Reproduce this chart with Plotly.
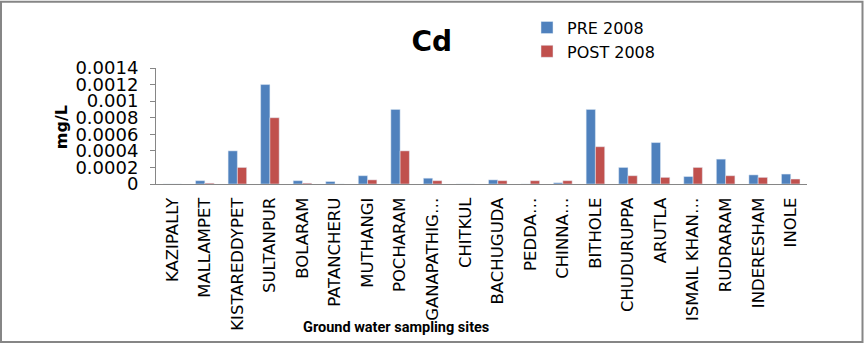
import plotly.graph_objects as go

sites = ["KAZIPALLY", "MALLAMPET", "KISTAREDDYPET", "SULTANPUR", "BOLARAM",
         "PATANCHERU", "MUTHANGI", "POCHARAM", "GANAPATHIG…", "CHITKUL",
         "BACHUGUDA", "PEDDA…", "CHINNA…", "BITHOLE", "CHUDURUPPA",
         "ARUTLA", "ISMAIL KHAN…", "RUDRARAM", "INDERESHAM", "INOLE"]
pre_2008 = [0, 0.00004, 0.0004, 0.0012, 0.00004,
            0.00003, 0.0001, 0.0009, 0.00007, 0,
            0.00005, 0, 0.000015, 0.0009, 0.0002,
            0.0005, 0.00009, 0.0003, 0.00011, 0.00012]
post_2008 = [0, 0.00001, 0.0002, 0.0008, 0.00001,
             0, 0.00005, 0.0004, 0.00004, 0,
             0.00004, 0.00004, 0.00004, 0.00045, 0.0001,
             0.00008, 0.0002, 0.0001, 0.00008, 0.00006]
y_tickvals = [0, 0.0002, 0.0004, 0.0006, 0.0008, 0.001, 0.0012, 0.0014]
y_ticktext = ["0", "0.0002", "0.0004", "0.0006", "0.0008", "0.001", "0.0012", "0.0014"]

FONT = "DejaVu Sans"
W, H = 864, 344
L, R, T, B = 156, 57, 67.6, 160
pw, ph = W - L - R, H - T - B


def px_x(p):
    return (p - L) / pw


def px_y(p):
    return (H - B - p) / ph


fig = go.Figure()
fig.add_trace(go.Bar(x=sites, y=pre_2008, name="PRE 2008", marker_color="#4F81BD"))
fig.add_trace(go.Bar(x=sites, y=post_2008, name="POST 2008", marker_color="#C0504D"))

fig.update_layout(
    width=W, height=H,
    margin=dict(l=L, r=R, t=T, b=B, pad=0, autoexpand=False),
    paper_bgcolor="white", plot_bgcolor="white",
    barmode="group", bargap=0.43, bargroupgap=0,
    font=dict(family=FONT, color="black"),
    title=dict(text="<b>Cd</b>", font=dict(family=FONT, size=28, color="black"),
               x=431.7 / W, xref="container", xanchor="center",
               y=1 - 41 / H, yref="container", yanchor="middle"),
    legend=dict(x=px_x(527), y=px_y(10), xanchor="left", yanchor="top",
                font=dict(family=FONT, size=16, color="black"),
                bgcolor="rgba(0,0,0,0)", tracegroupgap=0, itemwidth=30),
    showlegend=True,
    xaxis=dict(showline=True, linecolor="#868686", linewidth=1, automargin=False,
               tickangle=-90, tickfont=dict(family=FONT, size=16.5, color="black"),
               ticks="", ticklabelstandoff=6,
               showgrid=False, zeroline=False),
    yaxis=dict(range=[0, 0.0014], tickvals=y_tickvals, ticktext=y_ticktext,
               automargin=False,
               showline=True, linecolor="#868686", linewidth=1,
               ticks="outside", ticklen=5, tickcolor="#868686",
               tickfont=dict(family=FONT, size=18, color="black"),
               ticklabelstandoff=8,
               showgrid=False, zeroline=False),
    annotations=[
        dict(text="<b>Ground water sampling sites</b>", xref="paper", yref="paper",
             x=px_x(396), y=px_y(328), xanchor="center", yanchor="middle", showarrow=False,
             font=dict(family="Roboto", size=14.5, color="black")),
        dict(text="<b>mg/L</b>", xref="paper", yref="paper", textangle=-90,
             x=px_x(61), y=px_y(127), xanchor="center", yanchor="middle", showarrow=False,
             font=dict(family=FONT, size=16, color="black")),
    ],
    shapes=[dict(type="rect", xref="paper", yref="paper",
                 x0=px_x(1), x1=px_x(862.5), y0=px_y(342.5), y1=px_y(1),
                 line=dict(color="#868686", width=2), fillcolor="rgba(0,0,0,0)", layer="below")],
)

fig.write_html("out.html", config={"displayModeBar": False},
               post_script="document.body.style.margin='0';document.body.style.overflow='hidden';")
